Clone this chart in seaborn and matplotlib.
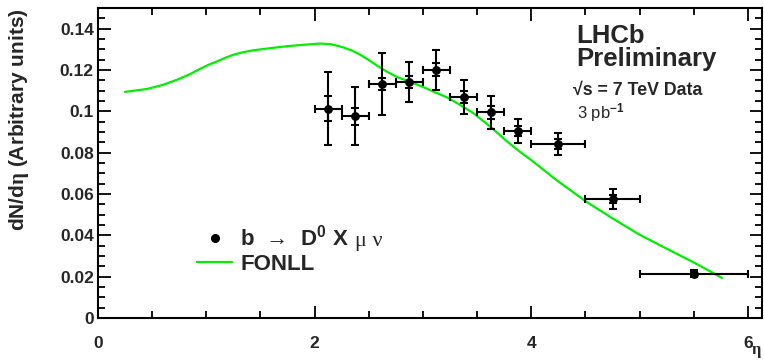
import numpy as np
import pandas as pd
import matplotlib
matplotlib.use("Agg")
import matplotlib.pyplot as plt
import seaborn as sns
from matplotlib.lines import Line2D
from matplotlib.ticker import MultipleLocator, FuncFormatter
from matplotlib.transforms import IdentityTransform

# ---- data ----
eta_lo = [2.0, 2.25, 2.5, 2.75, 3.0, 3.25, 3.5, 3.75, 4.0, 4.5, 5.0]
eta_hi = [2.25, 2.5, 2.75, 3.0, 3.25, 3.5, 3.75, 4.0, 4.5, 5.0, 6.0]
data_val = [0.1013, 0.0976, 0.1132, 0.1142, 0.1202, 0.1068, 0.0995, 0.0905, 0.0842, 0.0577, 0.0215]
err_tot = [0.0175, 0.0140, 0.0150, 0.0095, 0.0097, 0.0083, 0.0080, 0.0060, 0.0055, 0.0049, 0.0018]
err_stat = [0.0060, 0.0040, 0.0030, 0.0030, 0.0030, 0.0030, 0.0030, 0.0025, 0.0025, 0.0020, 0.0010]

fonll_eta = [0.25, 0.45, 0.60, 0.73, 0.85, 0.94, 1.02, 1.10, 1.18, 1.25, 1.33, 1.43, 1.58,
             1.74, 1.90, 2.05, 2.15, 2.26, 2.34, 2.42, 2.50, 2.58, 2.66, 2.76, 2.88, 3.00,
             3.09, 3.22, 3.34, 3.46, 3.63, 3.77, 3.90, 4.00, 4.23, 4.51, 4.75, 5.00, 5.30,
             5.51, 5.65, 5.76]
fonll_val = [0.1094, 0.1108, 0.1128, 0.1153, 0.1180, 0.1205, 0.1225, 0.1242, 0.1260, 0.1274,
             0.1285, 0.1295, 0.1305, 0.1315, 0.1322, 0.1328, 0.1325, 0.1310, 0.1295, 0.1274,
             0.1248, 0.1220, 0.1194, 0.1166, 0.1143, 0.1118, 0.1097, 0.1068, 0.1032, 0.0993,
             0.0922, 0.0857, 0.0802, 0.0764, 0.0668, 0.0562, 0.0482, 0.0403, 0.0322, 0.0266,
             0.0226, 0.0194]

x_ticks = [0, 2, 4, 6]
y_ticks = [0, 0.02, 0.04, 0.06, 0.08, 0.10, 0.12, 0.14]

legend_labels = [r"b  →  D$^{\mathbf{0}}$ X", "FONLL"]
legend_suffix = "μ ν"

# ---- style ----
sns.set_theme(style="ticks")
plt.rcParams["font.family"] = ["Liberation Sans", "DejaVu Sans"]
plt.rcParams["font.weight"] = "bold"
plt.rcParams["mathtext.fontset"] = "custom"
plt.rcParams["mathtext.rm"] = "Liberation Serif"
plt.rcParams["mathtext.it"] = "Liberation Serif"
plt.rcParams["mathtext.bf"] = "Liberation Sans:bold"
plt.rcParams["mathtext.sf"] = "Liberation Sans"
plt.rcParams["mathtext.default"] = "regular"

df = pd.DataFrame({"lo": eta_lo, "hi": eta_hi, "val": data_val,
                   "tot": err_tot, "stat": err_stat})
df["eta"] = (df["lo"] + df["hi"]) / 2
df["xerr"] = (df["hi"] - df["lo"]) / 2
fonll = pd.DataFrame({"eta": fonll_eta, "val": fonll_val})

fig = plt.figure(figsize=(7.64, 3.62), dpi=100)
ax = fig.add_axes([98 / 764, 44 / 362, 664 / 764, 310 / 362])

green = "#00ee00"
sns.lineplot(data=fonll, x="eta", y="val", color=green, lw=1.6, ax=ax, legend=False)

ax.errorbar(df["eta"], df["val"], yerr=df["tot"], xerr=df["xerr"], fmt="none",
            ecolor="black", elinewidth=1.5, capsize=2.8, capthick=1.5, zorder=3)
ax.errorbar(df["eta"], df["val"], yerr=df["stat"], fmt="none",
            ecolor="black", elinewidth=1.5, capsize=2.8, capthick=1.5, zorder=3)
sns.scatterplot(data=df, x="eta", y="val", color="black", marker="o", s=40,
                edgecolor="black", linewidth=0, ax=ax, zorder=4, legend=False)

ax.set_xlim(0, 6.13)
ax.set_ylim(0, 0.15)
ax.set_xticks(x_ticks)
ax.set_yticks(y_ticks)
ax.xaxis.set_minor_locator(MultipleLocator(0.5))
ax.yaxis.set_minor_locator(MultipleLocator(0.005))
ax.yaxis.set_major_formatter(FuncFormatter(lambda v, p: f"{v:g}"))
ax.xaxis.set_major_formatter(FuncFormatter(lambda v, p: f"{v:g}"))

for s in ax.spines.values():
    s.set_linewidth(1.5)
    s.set_color("black")
ax.tick_params(which="both", direction="in", top=True, right=True, width=1.3, color="black")
ax.tick_params(which="major", length=9)
ax.tick_params(which="minor", length=5)
ax.tick_params(axis="x", which="major", pad=13, labelsize=12.5)
ax.tick_params(axis="y", which="major", pad=3, labelsize=12.5)
for lab in ax.get_xticklabels() + ax.get_yticklabels():
    lab.set_fontweight("bold")

ax.set_ylabel(r"dN/d$\mathrm{\eta}$ (Arbitrary units)", fontsize=15, fontweight="bold")
ax.yaxis.set_label_coords(-0.101, 1.0)
ax.yaxis.label.set_ha("right")
ax.set_xlabel(r"$\mathrm{\eta}$", fontsize=12)
ax.xaxis.set_label_coords(0.992, -0.136)
ax.xaxis.label.set_va("bottom")

ax.text(0.721, 0.887, "LHCb", transform=ax.transAxes, fontsize=18.5, fontweight="bold")
ax.text(0.721, 0.813, "Preliminary", transform=ax.transAxes, fontsize=18.5, fontweight="bold")
ax.text(0.715, 0.719, "√s = 7 TeV Data", transform=ax.transAxes, fontsize=12.8, fontweight="bold")
ax.text(0.721, 0.645, r"3 pb$^{\mathsf{-1}}$", transform=ax.transAxes, fontsize=12,
        fontweight="normal")

handles = [Line2D([], [], marker="o", ls="none", color="black", markersize=5.5),
           Line2D([], [], color=green, lw=1.6)]
leg = ax.legend(handles, legend_labels, loc="upper left", bbox_to_anchor=(0.149, 0.30),
                frameon=False, fontsize=16, handlelength=1.6, handletextpad=0.35,
                labelspacing=0.15, borderaxespad=0, borderpad=0)
for t in leg.get_texts():
    t.set_fontweight("bold")

# serif Greek letters after the first legend entry
fig.canvas.draw()
r = fig.canvas.get_renderer()
bb = leg.get_texts()[0].get_window_extent(r)
ax.text(bb.x1 + 6, bb.y0, legend_suffix, transform=IdentityTransform(),
        fontsize=16, family="Liberation Serif", fontweight="normal", va="bottom", ha="left")

fig.savefig("out.png", dpi=100)
